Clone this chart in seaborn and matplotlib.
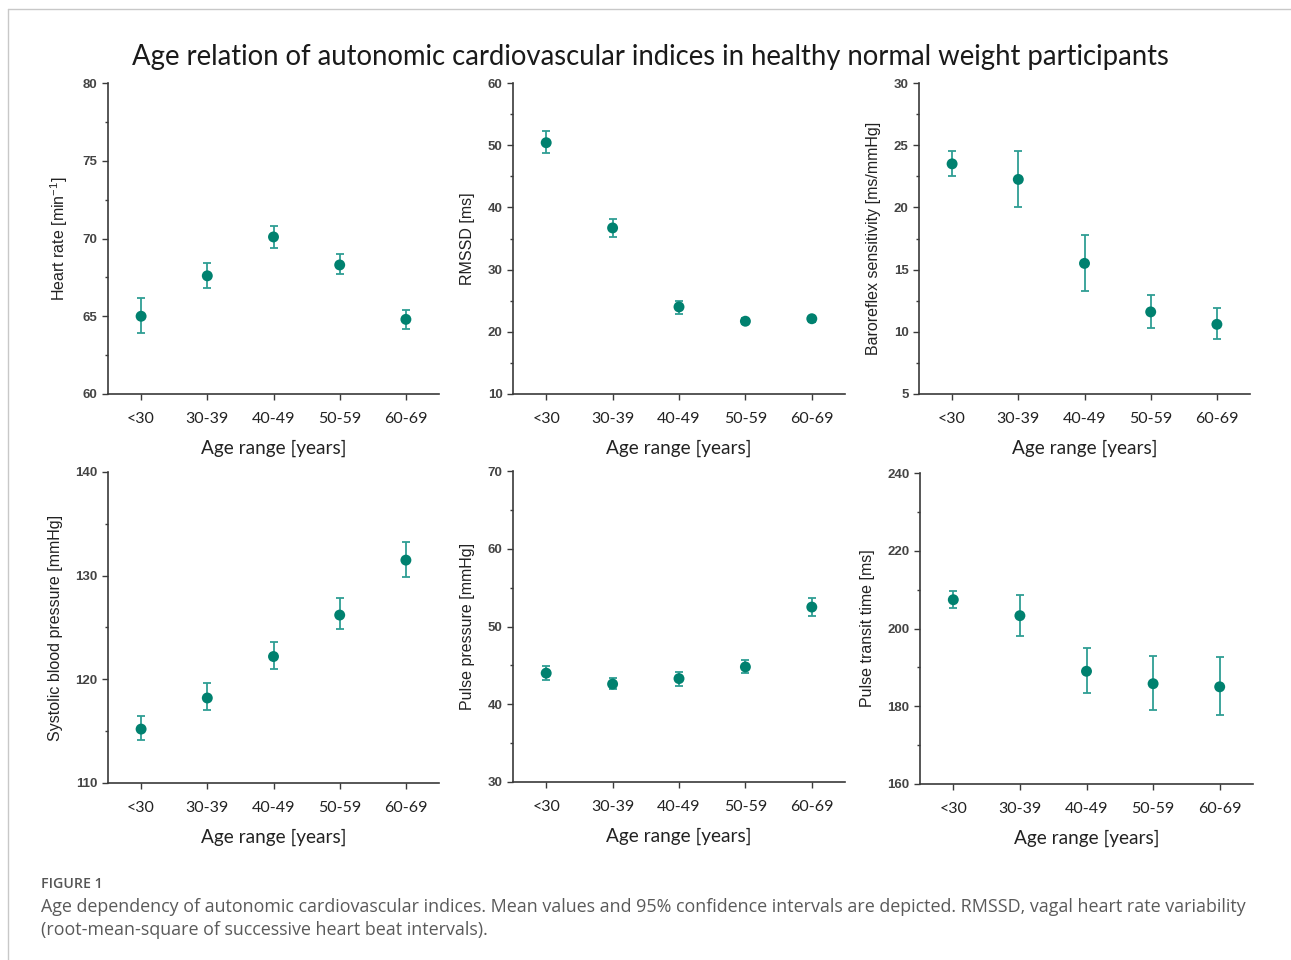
import matplotlib
matplotlib.use('Agg')
import matplotlib.pyplot as plt
import seaborn as sns
import pandas as pd
from matplotlib.lines import Line2D
from matplotlib.ticker import MultipleLocator

# ---------------- data ----------------
age_groups = ['<30', '30-39', '40-49', '50-59', '60-69']

hr_mean = [65.0, 67.6, 70.1, 68.3, 64.8]
hr_lo = [63.9, 66.8, 69.4, 67.7, 64.2]
hr_hi = [66.2, 68.4, 70.8, 69.0, 65.4]

rmssd_mean = [50.4, 36.7, 24.0, 21.7, 22.1]
rmssd_lo = [48.8, 35.3, 22.9, 21.2, 21.6]
rmssd_hi = [52.3, 38.2, 25.0, 22.2, 22.6]

brs_mean = [23.5, 22.25, 15.5, 11.6, 10.6]
brs_lo = [22.55, 20.05, 13.3, 10.3, 9.45]
brs_hi = [24.5, 24.5, 17.8, 12.95, 11.9]

sbp_mean = [115.2, 118.2, 122.2, 126.2, 131.5]
sbp_lo = [114.1, 117.0, 121.0, 124.9, 129.9]
sbp_hi = [116.5, 119.6, 123.6, 127.8, 133.2]

pp_mean = [44.0, 42.6, 43.3, 44.8, 52.5]
pp_lo = [43.15, 41.9, 42.4, 44.0, 51.3]
pp_hi = [44.9, 43.4, 44.2, 45.7, 53.7]

ptt_mean = [207.4, 203.3, 189.0, 185.8, 185.0]
ptt_lo = [205.4, 198.0, 183.5, 179.0, 177.8]
ptt_hi = [209.6, 208.6, 194.9, 192.9, 192.6]

y_labels = ['Heart rate [min$^{\\mathregular{-1}}$]', 'RMSSD [ms]',
            'Baroreflex sensitivity [ms/mmHg]', 'Systolic blood pressure [mmHg]',
            'Pulse pressure [mmHg]', 'Pulse transit time [ms]']
y_limits = [(60, 80), (10, 60), (5, 30), (110, 140), (30, 70), (160, 240)]
y_major = [5, 10, 5, 10, 10, 20]
x_label = 'Age range [years]'
title = 'Age relation of autonomic cardiovascular indices in healthy normal weight participants'
caption_head = 'FIGURE 1'
caption_lines = ['Age dependency of autonomic cardiovascular indices. Mean values and 95% confidence intervals are depicted. RMSSD, vagal heart rate variability',
                 '(root-mean-square of successive heart beat intervals).']

series = [(hr_mean, hr_lo, hr_hi), (rmssd_mean, rmssd_lo, rmssd_hi),
          (brs_mean, brs_lo, brs_hi), (sbp_mean, sbp_lo, sbp_hi),
          (pp_mean, pp_lo, pp_hi), (ptt_mean, ptt_lo, ptt_hi)]

# ---------------- style ----------------
sns.set_style('ticks')
plt.rcParams['font.family'] = ['Liberation Sans', 'DejaVu Sans']
plt.rcParams['mathtext.fontset'] = 'custom'
plt.rcParams['mathtext.rm'] = 'Liberation Sans'

point_color = '#00816f'
err_color = '#2f9e94'
axis_color = '#3a3a3a'

W, H = 1291, 960
fig = plt.figure(figsize=(W / 100, H / 100), dpi=100)

boxes = [(108, 83, 331), (513, 83, 332), (919, 83, 331),
         (108, 472, 331), (513, 471, 332), (920, 473, 333)]
ax_h = 311

for i, (mean, lo, hi) in enumerate(series):
    lx, ty, w = boxes[i]
    ax = fig.add_axes([lx / W, (H - ty - ax_h) / H, w / W, ax_h / H])
    df = pd.DataFrame({'age': age_groups, 'mean': mean, 'lo': lo, 'hi': hi})
    yerr = [df['mean'] - df['lo'], df['hi'] - df['mean']]
    ax.errorbar(df['age'], df['mean'], yerr=yerr, fmt='none', ecolor=err_color,
                elinewidth=1.3, capsize=2.6, capthick=1.3, zorder=2)
    sns.scatterplot(data=df, x='age', y='mean', ax=ax, color=point_color,
                    s=62, edgecolor='none', zorder=3, legend=False)
    ax.set_xlim(-0.5, 4.5)
    ax.set_ylim(*y_limits[i])
    ax.yaxis.set_major_locator(MultipleLocator(y_major[i]))
    ax.yaxis.set_minor_locator(MultipleLocator(y_major[i] / 2))
    sns.despine(ax=ax)
    for s in ['left', 'bottom']:
        ax.spines[s].set_color(axis_color)
        ax.spines[s].set_linewidth(1.2)
    ax.tick_params(axis='y', which='major', length=4, width=1, color=axis_color,
                   labelsize=9.5, labelcolor='#444444', pad=3.5)
    ax.tick_params(axis='y', which='minor', length=2.5, width=1, color=axis_color)
    ax.tick_params(axis='x', which='major', length=4, width=1, color=axis_color,
                   labelsize=11.5, labelcolor='#222222', pad=9)
    for t in ax.get_yticklabels():
        t.set_fontweight('bold')
    for t in ax.get_xticklabels():
        t.set_fontfamily(['Lato', 'DejaVu Sans'])
    ax.set_ylabel(y_labels[i], fontsize=11.5, color='#222222', labelpad=9)
    ax.set_xlabel(x_label, fontsize=13.7, color='#222222', labelpad=10,
                  family=['Lato', 'DejaVu Sans'])

fig.text(650 / W, 1 - 57 / H, title, ha='center', va='center', fontsize=19.8,
         color='#1a1a1a', family=['Lato', 'DejaVu Sans'])

fig.text(41 / W, 1 - 884 / H, caption_head, ha='left', va='center', fontsize=10.2,
         color='#555555', fontweight='semibold', family=['Open Sans', 'DejaVu Sans'])
fig.text(41 / W, 1 - 907 / H, caption_lines[0], ha='left', va='center', fontsize=12.9,
         color='#5a5a5a', family=['Open Sans', 'DejaVu Sans'])
fig.text(41 / W, 1 - 930 / H, caption_lines[1], ha='left', va='center', fontsize=12.9,
         color='#5a5a5a', family=['Open Sans', 'DejaVu Sans'])

# frame lines (top and left) of the figure panel
fig.add_artist(Line2D([8 / W, 1.0], [1 - 9 / H, 1 - 9 / H], color='#c8c8c8', lw=1))
fig.add_artist(Line2D([8 / W, 8 / W], [1 - 9 / H, 0.0], color='#c8c8c8', lw=1))

fig.savefig('out.png', dpi=100)
